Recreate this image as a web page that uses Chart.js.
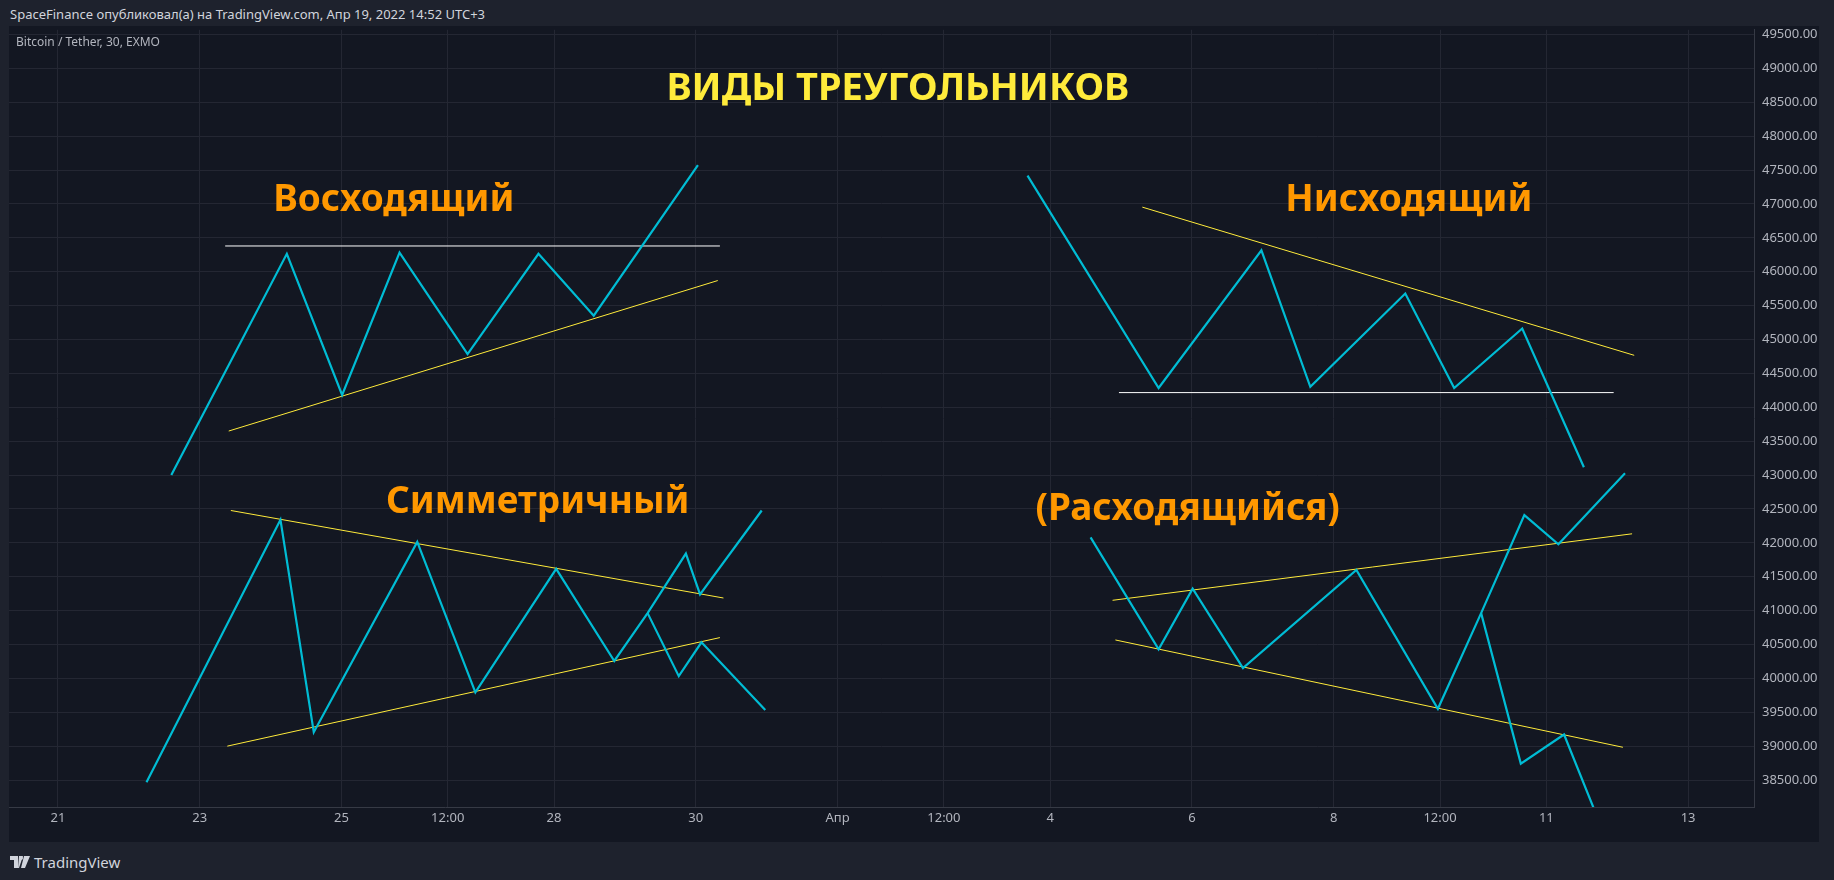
<!DOCTYPE html>
<html>
<head>
<meta charset="utf-8">
<script src="https://cdn.jsdelivr.net/npm/chart.js@4"></script>
<style>
  html, body { margin: 0; padding: 0; background: #1e222d; width: 1834px; height: 880px; overflow: hidden; font-family: "Noto Sans", sans-serif; }
  #top { position: absolute; left: 0; top: 0; width: 1834px; height: 26px; background: #1e222d; z-index: 2; }
  #top span { position: absolute; left: 10px; top: 5px; color: #d1d4dc; font-size: 13px; }
  #wrap { position: absolute; left: 9px; top: 14px; width: 1810px; height: 828px; background: #131722; }
  #sym { position: absolute; left: 16px; top: 33px; color: #b2b5be; font-size: 12px; z-index: 3; }
  #logo { position: absolute; left: 10px; top: 852px; color: #d1d4dc; font-size: 15px; display: flex; align-items: center; gap: 4px; }
</style>
</head>
<body>
<div id="top"><span>SpaceFinance опубликовал(а) на TradingView.com, Апр 19, 2022 14:52 UTC+3</span></div>
<div id="wrap"><canvas id="c"></canvas></div>
<div id="sym">Bitcoin / Tether, 30, EXMO</div>
<div id="logo"><svg width="20" height="12" viewBox="0 0 20 12"><path d="M0 0h8v12h-4v-8h-4z M9 0h4l-4 12h-1z M14 0h6l-5 12h-4z" fill="#d1d4dc"/><circle cx="11" cy="2" r="2" fill="#d1d4dc"/></svg><span>TradingView</span></div>
<script>
// x in day units, 0 = "21"
const xTickPos = [0, 2, 4, 5.5, 7, 9, 11, 12.5, 14, 16, 18, 19.5, 21, 23];
const xTickLabels = ['21', '23', '25', '12:00', '28', '30', 'Апр', '12:00', '4', '6', '8', '12:00', '11', '13'];

// Восходящий
const ascX = [1.60, 3.23, 4.01, 4.82, 5.78, 6.78, 7.56, 9.03];
const ascY = [43000, 46264, 44182, 46282, 44785, 46264, 45352, 47573];
const ascResX = [2.36, 9.34], ascResY = [46380, 46380];
const ascSupX = [2.41, 9.31], ascSupY = [43650, 45870];

// Нисходящий
const descX = [13.68, 15.53, 16.98, 17.67, 19.01, 19.70, 20.66, 21.53];
const descY = [47418, 44285, 46316, 44303, 45679, 44285, 45163, 43115];
const descResX = [15.30, 22.24], descResY = [46953, 44767];
const descSupX = [14.97, 21.95], descSupY = [44217, 44217];

// Симметричный
const symX = [1.25, 3.14, 3.61, 5.07, 5.89, 7.03, 7.85, 8.32, 8.86, 9.06, 9.93];
const symY = [38468, 42341, 39208, 42014, 39794, 41618, 40258, 40964, 41842, 41239, 42478];
const symBrX = [8.32, 8.76, 9.08, 9.98];
const symBrY = [40964, 40034, 40534, 39535];
const symUpX = [2.44, 9.39], symUpY = [42478, 41187];
const symLoX = [2.39, 9.34], symLoY = [39002, 40603];

// Расходящийся
const divX = [14.57, 15.53, 16.01, 16.72, 18.32, 19.47, 20.08, 20.69, 21.17, 22.11];
const divY = [42082, 40430, 41325, 40155, 41601, 39553, 40964, 42409, 41979, 43029];
const divBrX = [20.08, 20.64, 21.25, 21.72];
const divBrY = [40964, 38744, 39174, 37952];
const divUpX = [14.88, 22.21], divUpY = [41153, 42134];
const divLoX = [14.92, 22.08], divLoY = [40568, 38985];

const labels = [
  { text: 'ВИДЫ ТРЕУГОЛЬНИКОВ', x: 11.85, y: 48696, color: '#ffeb3b', size: 38 },
  { text: 'Восходящий', x: 4.74, y: 47046, color: '#ff9800', size: 37 },
  { text: 'Нисходящий', x: 19.06, y: 47046, color: '#ff9800', size: 37 },
  { text: 'Симметричный', x: 6.77, y: 42593, color: '#ff9800', size: 37 },
  { text: '(Расходящийся)', x: 15.94, y: 42490, color: '#ff9800', size: 37 }
];

const pts = (xs, ys) => xs.map((x, i) => ({ x: x, y: ys[i] }));
const CYAN = '#00bcd4', YEL = '#ffeb3b', WHITE = '#ffffff';
const line = (xs, ys, color, w) => ({
  data: pts(xs, ys), borderColor: color, borderWidth: w,
  pointRadius: 0, tension: 0, fill: false
});

const textPlugin = {
  id: 'texts',
  afterDatasetsDraw(chart) {
    const { ctx, scales } = chart;
    ctx.save();
    ctx.textAlign = 'center';
    ctx.textBaseline = 'middle';
    labels.forEach(l => {
      ctx.font = 'bold ' + l.size + 'px "Noto Sans", sans-serif';
      ctx.fillStyle = l.color;
      ctx.fillText(l.text, scales.x.getPixelForValue(l.x), scales.y.getPixelForValue(l.y));
    });
    ctx.restore();
  }
};

new Chart(document.getElementById('c'), {
  type: 'line',
  data: {
    datasets: [
      line(ascX, ascY, CYAN, 2.2),
      line(ascResX, ascResY, WHITE, 1),
      line(ascSupX, ascSupY, YEL, 1),
      line(descX, descY, CYAN, 2.2),
      line(descResX, descResY, YEL, 1),
      line(descSupX, descSupY, WHITE, 1),
      line(symX, symY, CYAN, 2.2),
      line(symBrX, symBrY, CYAN, 2.2),
      line(symUpX, symUpY, YEL, 1),
      line(symLoX, symLoY, YEL, 1),
      line(divX, divY, CYAN, 2.2),
      line(divBrX, divBrY, CYAN, 2.2),
      line(divUpX, divUpY, YEL, 1),
      line(divLoX, divLoY, YEL, 1)
    ]
  },
  options: {
    responsive: true,
    maintainAspectRatio: false,
    animation: false,
    plugins: { legend: { display: false }, tooltip: { enabled: false } },
    scales: {
      x: {
        type: 'linear', min: -0.69, max: 23.93,
        afterBuildTicks(axis) { axis.ticks = xTickPos.map(v => ({ value: v })); },
        afterFit(axis) { axis.height = 35; },
        ticks: {
          autoSkip: false, maxRotation: 0, color: '#b2b5be', font: { size: 13, family: 'Noto Sans' },
          callback: (v) => xTickLabels[xTickPos.indexOf(v)]
        },
        grid: { color: '#242733', drawTicks: false },
        border: { color: '#363a45' }
      },
      y: {
        position: 'right', min: 38104, max: 49569,
        afterBuildTicks(axis) {
          const t = [];
          for (let v = 38500; v <= 49500; v += 500) t.push({ value: v });
          axis.ticks = t;
        },
        afterFit(axis) { axis.width = 65; },
        ticks: { color: '#b2b5be', font: { size: 13, family: 'Noto Sans' }, padding: 8, callback: v => v.toFixed(2) },
        grid: { color: '#242733', drawTicks: false },
        border: { color: '#363a45' }
      }
    }
  },
  plugins: [textPlugin]
});
</script>
</body>
</html>
